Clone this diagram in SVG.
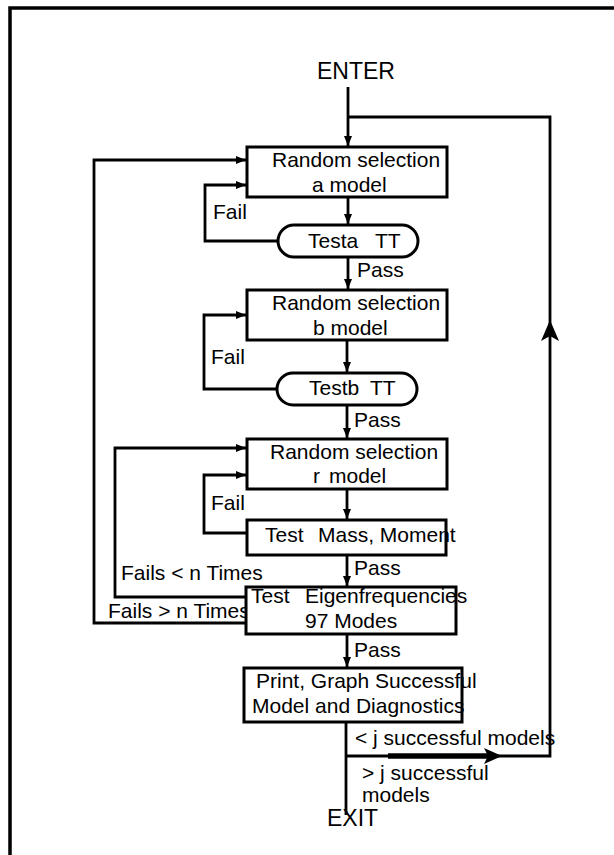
<svg xmlns="http://www.w3.org/2000/svg" width="614" height="855" viewBox="0 0 614 855">
<defs>
<style>
.box{fill:#fff;stroke:#000;stroke-width:3}
.ln{fill:none;stroke:#000;stroke-width:2.8;stroke-linejoin:miter}
text{font-family:"Liberation Sans",Arial,sans-serif;font-size:21px;fill:#000}
.big{font-size:23px}
</style>
<marker id="ah" markerUnits="userSpaceOnUse" markerWidth="10" markerHeight="10" viewBox="0 0 10 10" refX="10" refY="5" orient="auto">
<path d="M0,1 L10,5 L0,9 Z" fill="#000"/>
</marker>
</defs>
<rect x="10" y="8" width="700" height="900" fill="none" stroke="#000" stroke-width="3.5"/>
<g id="connectors">
<path class="ln" d="M348,87 L348,146" marker-end="url(#ah)"/>
<path class="ln" d="M348,117 L550,117 L550,336" stroke-width="3.5"/>
<path class="ln" d="M550,336 L550,756 L346,756" stroke-width="4.5"/>
<path d="M550,320 L559,341 L550,336 L541,341 Z" fill="#000"/>
<path d="M388,756 L488,756" stroke="#000" stroke-width="5.5"/>
<path d="M502,756 L484,748 L488,756 L484,764 Z" fill="#000"/>
<path class="ln" d="M348,197 L348,224" marker-end="url(#ah)"/>
<path class="ln" d="M278,241 L205,241 L205,185 L246,185" marker-end="url(#ah)"/>
<path class="ln" d="M348,257 L348,289" marker-end="url(#ah)"/>
<path class="ln" d="M347,340 L347,372" marker-end="url(#ah)"/>
<path class="ln" d="M277,389 L204,389 L204,315 L246,315" marker-end="url(#ah)"/>
<path class="ln" d="M347,405 L347,438" marker-end="url(#ah)"/>
<path class="ln" d="M347,489 L347,519" marker-end="url(#ah)"/>
<path class="ln" d="M247,533 L204,533 L204,475 L246,475" marker-end="url(#ah)"/>
<path class="ln" d="M347,555 L347,586" marker-end="url(#ah)"/>
<path class="ln" d="M246,597 L115,597 L115,448 L246,448" marker-end="url(#ah)"/>
<path class="ln" d="M246,623 L94,623 L94,160 L246,160" marker-end="url(#ah)"/>
<path class="ln" d="M347,634 L347,667" marker-end="url(#ah)"/>
<path class="ln" d="M346,722 L346,815"/>
</g>
<g id="labels">
<text class="big" x="317" y="79">ENTER</text>
<text x="213" y="219">Fail</text>
<text x="357" y="277">Pass</text>
<text x="211" y="364">Fail</text>
<text x="354" y="427">Pass</text>
<text x="211" y="510">Fail</text>
<text x="354" y="575">Pass</text>
<text x="121" y="580">Fails &lt; n Times</text>
<text x="108" y="618">Fails &gt; n Times</text>
<text x="354" y="657">Pass</text>
<text x="355" y="745">&lt; j successful models</text>
<text x="362" y="780">&gt; j successful</text>
<text x="362" y="802">models</text>
<text class="big" x="327" y="826">EXIT</text>
</g>
<g id="n1">
<rect class="box" x="247" y="147" width="200" height="50"/>
<text x="272" y="167">Random selection</text>
<text x="312" y="192">a model</text>
</g>
<g id="n2">
<rect class="box" x="278" y="225" width="140" height="32" rx="16"/>
<text x="308" y="248">Testa <tspan x="375">TT</tspan></text>
</g>
<g id="n3">
<rect class="box" x="247" y="290" width="200" height="50"/>
<text x="272" y="310">Random selection</text>
<text x="313" y="335">b model</text>
</g>
<g id="n4">
<rect class="box" x="277" y="373" width="140" height="32" rx="16"/>
<text x="309" y="395">Testb <tspan x="370">TT</tspan></text>
</g>
<g id="n5">
<rect class="box" x="247" y="439" width="200" height="50"/>
<text x="270" y="459">Random selection</text>
<text x="313" y="483">r <tspan x="329">model</tspan></text>
</g>
<g id="n6">
<rect class="box" x="247" y="520" width="199" height="35"/>
<text x="265" y="542">Test <tspan x="318">Mass, Moment</tspan></text>
</g>
<g id="n7">
<rect class="box" x="246" y="587" width="210" height="47"/>
<text x="251" y="603">Test <tspan x="305">Eigenfrequencies</tspan></text>
<text x="305" y="628">97 Modes</text>
</g>
<g id="n8">
<rect class="box" x="244" y="668" width="218" height="54"/>
<text x="256" y="688">Print, Graph Successful</text>
<text x="252" y="713">Model and Diagnostics</text>
</g>
</svg>
